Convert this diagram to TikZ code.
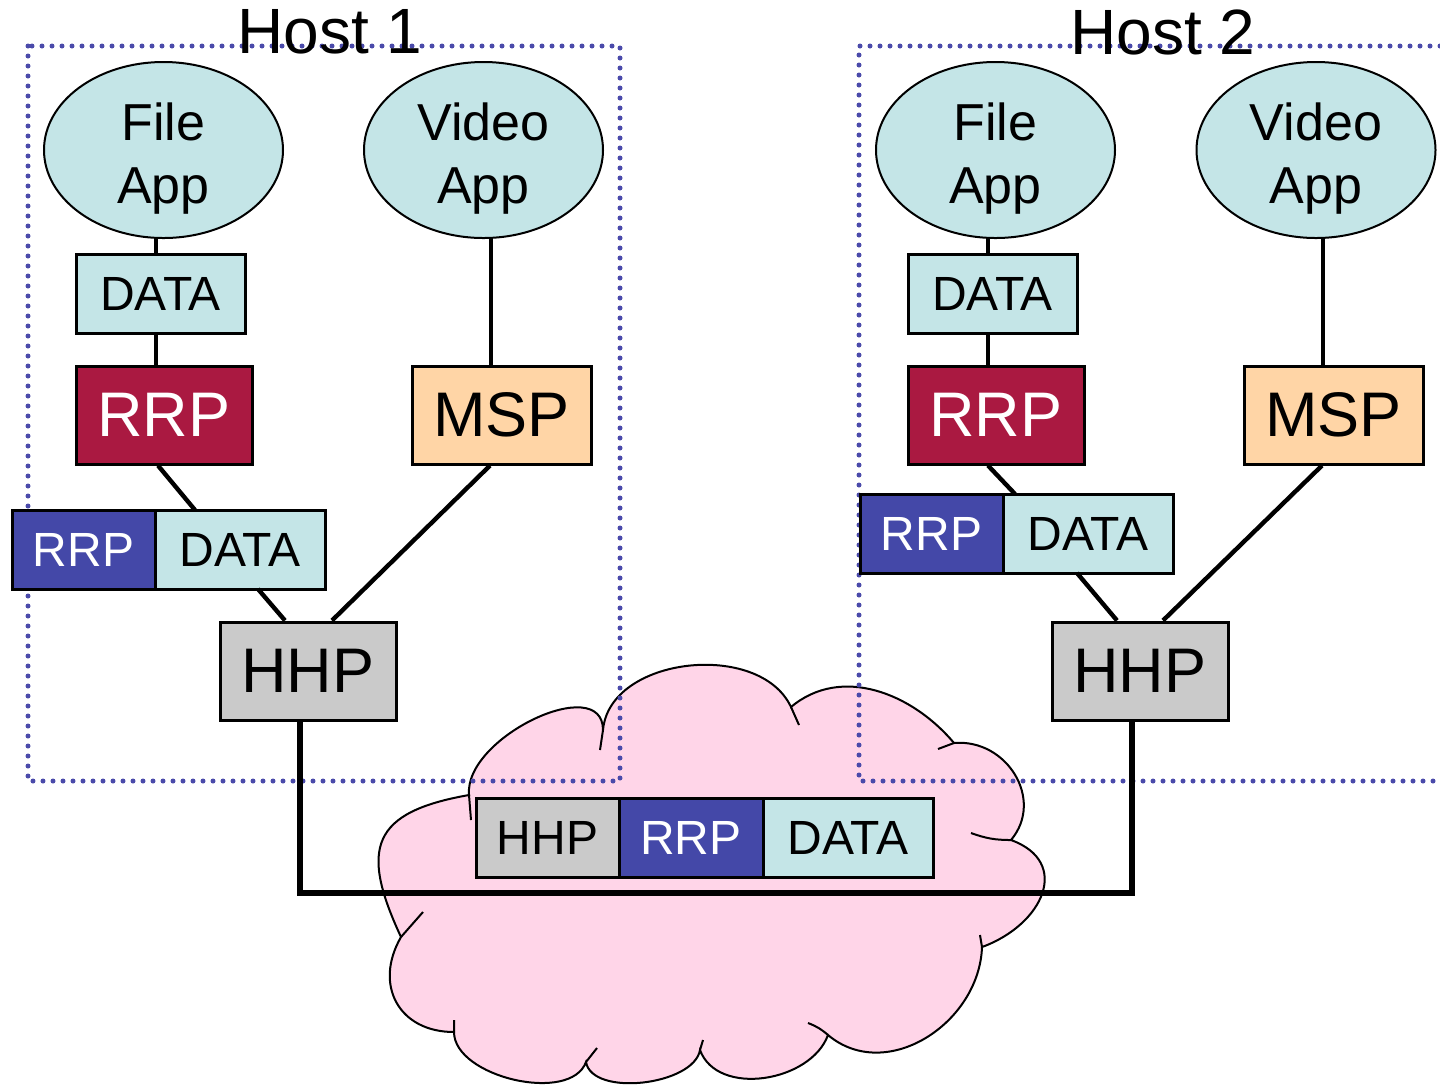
\documentclass[tikz,border=0pt]{standalone}
\usepackage{fontspec}
\setmainfont{Liberation Sans}
\usepackage{tikz}
\usetikzlibrary{positioning, shapes.geometric, calc}
\usepackage{xcolor}
\definecolor{appc}{RGB}{196,229,231}
\definecolor{rred}{RGB}{170,25,65}
\definecolor{rblue}{RGB}{68,72,168}
\definecolor{mpeach}{RGB}{255,213,166}
\definecolor{hgray}{RGB}{202,202,202}
\definecolor{cpink}{RGB}{255,213,232}
\definecolor{hostc}{RGB}{74,74,170}
\newcommand{\apptop}{\rule{0pt}{27pt}}

\begin{document}
\begin{tikzpicture}[x=0.5pt, y=0.5pt,
  app/.style={ellipse,draw,line width=1pt,fill=appc,minimum width=119.5pt,
              minimum height=88pt,inner sep=-2pt,align=center,
              font=\fontsize{26}{31.5}\selectfont},
  layer/.style={draw,line width=1.5pt,minimum height=49pt,inner sep=0pt,
                font=\fontsize{31.5}{31.5}\selectfont},
  hdr/.style={draw,line width=1.5pt,minimum height=39.5pt,inner sep=0pt,
              outer sep=0pt,font=\fontsize{24}{24}\selectfont},
  hostlab/.style={inner sep=0pt,font=\fontsize{32}{32}\selectfont},
  link/.style={line width=2.2pt},
  frame/.style={hostc,line width=2.5pt,line cap=round,dash pattern=on 0pt off 5pt},
  cloudline/.style={line width=1pt}
]
\useasboundingbox (0,0) rectangle (1440,-1084);

% network cloud
\coordinate (A) at (469,-795);
\coordinate (B) at (603,-730);
\coordinate (C) at (791,-707);
\coordinate (D) at (954,-743);
\coordinate (E) at (1011,-840);
\coordinate (F) at (982,-947);
\coordinate (G) at (828,-1035);
\coordinate (H) at (700,-1050);
\coordinate (I) at (586,-1062);
\coordinate (J) at (454,-1032);
\coordinate (K) at (401,-937);
\draw[cloudline,fill=cpink] (A) to[out=95,in=90] (B) to[out=85,in=115] (C)
  to[out=40,in=130] (D) to[out=5,in=50,looseness=1.2] (E)
  to[out=-20,in=20,looseness=1.5] (F) to[out=-92,in=-40,looseness=1.1] (G)
  to[out=-110,in=-70] (H) to[out=-100,in=-80,looseness=0.8] (I)
  to[out=-110,in=-90,looseness=0.85] (J) to[out=180,in=-120,looseness=1.3] (K)
  to[out=115,in=-170,looseness=1.6] (A) -- cycle;
\draw[cloudline] (A) -- ++(2,-25) (B) -- ++(-3,-20) (C) -- ++(8,-18)
  (D) -- ++(-16,-6) (E) to[bend left=10] ++(-40,7) (F) -- ++(-2,12)
  (G) to[bend right=10] ++(-20,12) (H) -- ++(3,10) (I) -- ++(11,14)
  (J) -- ++(0,12) (K) -- ++(22,25);

% hosts
\draw[frame] (28,-46) rectangle (620,-781);
\draw[frame] (1450,-46) -- (859,-46) -- (859,-781) -- (1450,-781);

\coordinate (busL) at (300,-893);
\coordinate (busR) at (1132,-893);

\node[app] (fa1) at (163.5,-150) {\apptop File\\App};
\node[app] (va1) at (483.5,-150) {\apptop Video\\App};
\node[hdr,fill=appc,minimum width=84.5pt] (d1) at (160.5,-293.5) {DATA};
\node[layer,fill=rred,text=white,minimum width=88pt] (r1) at (164,-415) {RRP};
\node[layer,fill=mpeach,minimum width=89.5pt] (m1) at (501.5,-415) {MSP};
\node[hdr,fill=rblue,text=white,minimum width=71.5pt] (rb1) at (83.5,-549.5) {RRP};
\node[hdr,fill=appc,minimum width=85pt,right=0pt of rb1] (db1) {DATA};
\node[layer,fill=hgray,minimum width=88pt] (h1) at (308,-671) {HHP};

\node[app] (fa2) at (995.5,-150) {\apptop File\\App};
\node[app] (va2) at (1316,-150) {\apptop Video\\App};
\node[hdr,fill=appc,minimum width=84.5pt] (d2) at (992.5,-293.5) {DATA};
\node[layer,fill=rred,text=white,minimum width=88pt] (r2) at (996,-415) {RRP};
\node[layer,fill=mpeach,minimum width=89.5pt] (m2) at (1333.5,-415) {MSP};
\node[hdr,fill=rblue,text=white,minimum width=71.5pt] (rb2) at (931.5,-533.5) {RRP};
\node[hdr,fill=appc,minimum width=85pt,right=0pt of rb2] (db2) {DATA};
\node[layer,fill=hgray,minimum width=88pt] (h2) at (1140,-671) {HHP};

\draw[link] ($(fa1.south)+(-7.5,0)$) -- ($(d1.north)+(-4.5,0)$);
\draw[link] ($(d1.south)+(-4.5,0)$) -- ($(r1.north)+(-8,0)$);
\draw[link] ($(va1.south)+(7.5,0)$) -- ($(m1.north)+(-10.5,0)$);
\draw[link] ($(r1.south)+(-6,0)$) -- ($(db1.north west)+(40,0)$);
\draw[link] ($(db1.south)+(18,0)$) -- ($(h1.north)+(-23,0)$);
\draw[link] ($(m1.south)+(-11.5,0)$) -- ($(h1.north)+(24,0)$);

\draw[link] ($(fa2.south)+(-7.5,0)$) -- ($(d2.north)+(-4.5,0)$);
\draw[link] ($(d2.south)+(-4.5,0)$) -- ($(r2.north)+(-8,0)$);
\draw[link] ($(va2.south)+(7,0)$) -- ($(m2.north)+(-10.5,0)$);
\draw[link] ($(r2.south)+(-8,0)$) -- ($(db2.north west)+(12,0)$);
\draw[link] ($(db2.south)+(-11,0)$) -- ($(h2.north)+(-23,0)$);
\draw[link] ($(m2.south)+(-11.5,0)$) -- ($(h2.north)+(23,0)$);

\draw[link,line width=2.6pt] ($(h1.south)+(-8,0)$) -- (busL) -- (busR)
  -- ($(h2.south)+(-8,0)$);

% packet on the wire
\node[hdr,fill=hgray,minimum width=71.5pt] (ph) at (547.5,-837.5) {HHP};
\node[hdr,fill=rblue,text=white,minimum width=72pt,right=0pt of ph] (pr) {RRP};
\node[hdr,fill=appc,minimum width=85pt,right=0pt of pr] (pd) {DATA};

\node[hostlab] (lab1) at (330,-32) {Host 1};
\node[hostlab] (lab2) at (1163,-32) {Host 2};
\end{tikzpicture}
\end{document}
